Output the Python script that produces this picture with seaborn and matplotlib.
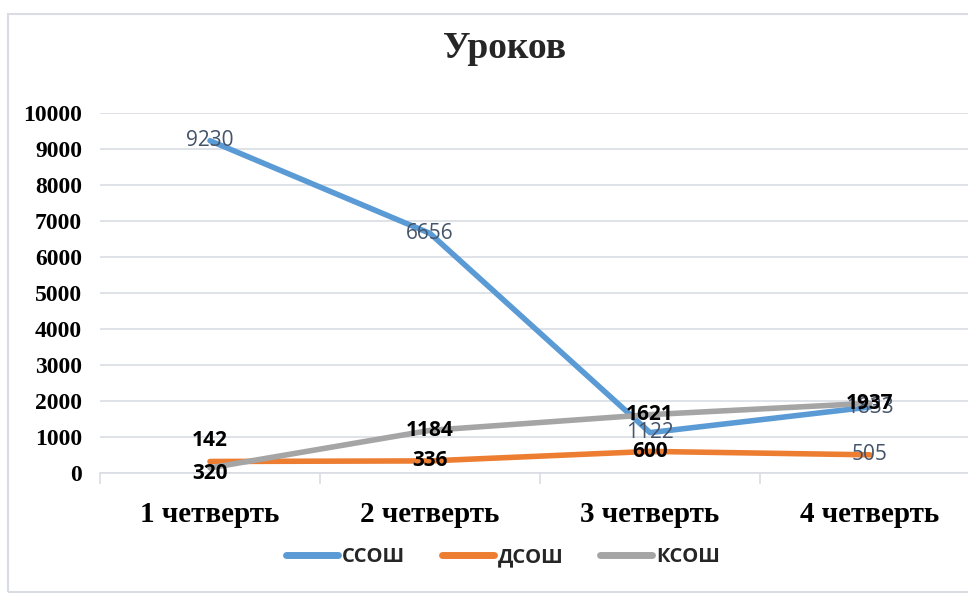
import matplotlib
matplotlib.use('Agg')
import matplotlib.pyplot as plt
import seaborn as sns
import pandas as pd
from matplotlib.patches import Rectangle

quarters = ['1 четверть', '2 четверть', '3 четверть', '4 четверть']
ssosh = [9230, 6656, 1122, 1833]
dsosh = [320, 336, 600, 505]
ksosh = [142, 1184, 1621, 1937]
series_names = ['ССОШ', 'ДСОШ', 'КСОШ']

df = pd.DataFrame({
    'Четверть': quarters * 3,
    'Уроков': ssosh + dsosh + ksosh,
    'Школа': [n for n in series_names for _ in quarters],
})

sns.set_theme(style='white')
palette = {'ССОШ': '#5B9BD5', 'ДСОШ': '#ED7D31', 'КСОШ': '#A5A5A5'}

fig = plt.figure(figsize=(9.68, 5.98), dpi=100)
# chart frame
fig.patches.append(Rectangle((8 / 968, 6 / 598), 1.2, 578 / 598, transform=fig.transFigure,
                             fill=False, edgecolor='#D9DDE3', linewidth=1.5))
ax = fig.add_axes([100 / 968, 125 / 598, 880 / 968, 360 / 598])
ax.set_facecolor('none')

sns.lineplot(data=df, x='Четверть', y='Уроков', hue='Школа', palette=palette,
             linewidth=4, sort=False, ax=ax, legend=True)
for ln in ax.lines:
    ln.set_solid_capstyle('round')
    ln.set_solid_joinstyle('round')

ax.set_ylim(0, 10000)
ax.set_xlim(-0.5, 3.5)
ax.set_yticks(range(0, 10001, 1000))
ax.yaxis.grid(True, color='#D9DDE3', linewidth=1.2)
ax.set_axisbelow(True)
for s in ['top', 'right', 'left']:
    ax.spines[s].set_visible(False)
ax.spines['bottom'].set_color('#D9DDE3')
ax.spines['bottom'].set_linewidth(1.2)
ax.set_xticks([-0.5, 0.5, 1.5, 2.5], minor=False)
ax.set_xticklabels([])
ax.set_xticks(range(4), minor=True)
ax.set_xticklabels(quarters, minor=True, fontsize=21, fontweight='bold', family='Liberation Serif')
ax.tick_params(axis='x', which='major', length=8, width=1.2, color='#D9DDE3', direction='out', bottom=True)
ax.tick_params(axis='x', which='minor', length=0, pad=20, colors='black')
ax.tick_params(axis='y', length=0, pad=13)
for t in ax.get_yticklabels():
    t.set_fontfamily('Liberation Serif')
    t.set_fontweight('bold')
    t.set_fontsize(17)
    t.set_color('black')
ax.set_xlabel('')
ax.set_ylabel('')

slate = '#44546A'
label_font = 'Open Sans'
for i, v in enumerate(ssosh):
    ax.annotate(str(v), (i, v), ha='center', va='center', fontsize=15, color=slate, family=label_font)
for i, v in enumerate(dsosh):
    off = -9 if i == 0 else 0
    bold = i != 3
    ax.annotate(str(v), (i, v), xytext=(0, off), textcoords='offset points', ha='center', va='center',
                fontsize=15, color='black' if bold else slate,
                fontweight='bold' if bold else 'normal', family=label_font)
for i, v in enumerate(ksosh):
    off = 20 if i == 0 else 0
    ax.annotate(str(v), (i, v), xytext=(0, off), textcoords='offset points', ha='center', va='center',
                fontsize=15, color='black', fontweight='bold', family=label_font)

ax.set_title('')
fig.text(505 / 968, 1 - 48 / 598, 'Уроков', ha='center', va='center', fontsize=27,
         fontweight='bold', family='Liberation Serif')

handles, labels = ax.get_legend_handles_labels()
ax.legend_.remove()
leg = fig.legend(handles, labels, loc='center', bbox_to_anchor=(503 / 968, 1 - 557 / 598), ncol=3,
                 frameon=False, handlelength=2.6, columnspacing=1.8, handletextpad=0.2,
                 prop={'family': 'Open Sans', 'weight': 'bold', 'size': 14.5})
for h in leg.legend_handles:
    h.set_linewidth(5)
    h.set_solid_capstyle('round')

fig.savefig('out.png', dpi=100)
